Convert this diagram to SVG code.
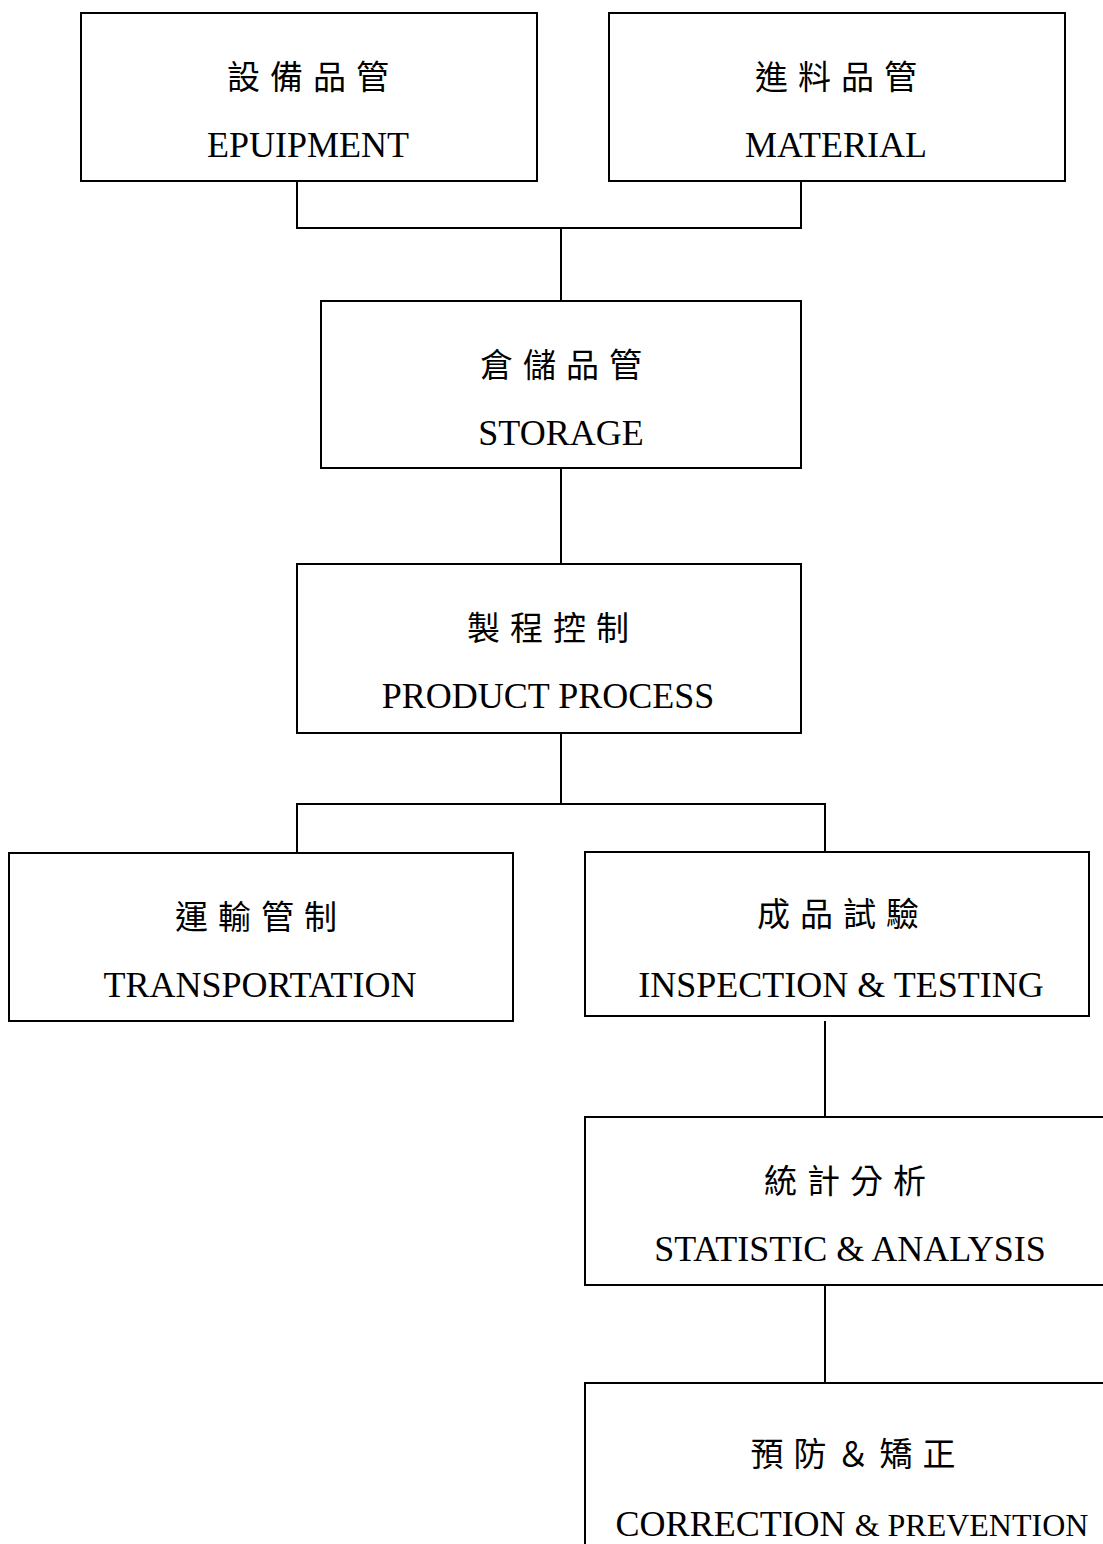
<svg xmlns="http://www.w3.org/2000/svg" width="1103" height="1544" viewBox="0 0 1103 1544">
  <style>
    .box { fill: #ffffff; stroke: #000000; stroke-width: 2; }
    .conn { fill: none; stroke: #000000; stroke-width: 2; }
    .zh { font-family: "Noto Sans CJK TC", "Noto Sans CJK SC", sans-serif; font-size: 33px; letter-spacing: 10px; text-anchor: middle; fill: #000; }
    .en { font-family: "Liberation Serif", "Times New Roman", serif; font-size: 36px; text-anchor: middle; fill: #000; }
    .sm { font-size: 32px; }
  </style>
  <rect width="1103" height="1544" fill="#ffffff"/>
  <g id="connectors">
    <path class="conn" d="M297 181 V228 H801 V181"/>
    <path class="conn" d="M561 228 V301"/>
    <path class="conn" d="M561 468 V564"/>
    <path class="conn" d="M561 733 V804"/>
    <path class="conn" d="M297 853 V804 H825 V852"/>
    <path class="conn" d="M825 1021 V1117"/>
    <path class="conn" d="M825 1285 V1383"/>
  </g>
  <g id="node-equipment">
    <rect class="box" x="81" y="13" width="456" height="168"/>
    <text class="zh" x="313" y="89">設備品管</text>
    <text class="en" x="308" y="157">EPUIPMENT</text>
  </g>
  <g id="node-material">
    <rect class="box" x="609" y="13" width="456" height="168"/>
    <text class="zh" x="841" y="89">進料品管</text>
    <text class="en" x="836" y="157">MATERIAL</text>
  </g>
  <g id="node-storage">
    <rect class="box" x="321" y="301" width="480" height="167"/>
    <text class="zh" x="566" y="377">倉儲品管</text>
    <text class="en" x="561" y="445">STORAGE</text>
  </g>
  <g id="node-process">
    <rect class="box" x="297" y="564" width="504" height="169"/>
    <text class="zh" x="553" y="640">製程控制</text>
    <text class="en" x="548" y="708">PRODUCT PROCESS</text>
  </g>
  <g id="node-transportation">
    <rect class="box" x="9" y="853" width="504" height="168"/>
    <text class="zh" x="261" y="929">運輸管制</text>
    <text class="en" x="260" y="997">TRANSPORTATION</text>
  </g>
  <g id="node-inspection">
    <rect class="box" x="585" y="852" width="504" height="164"/>
    <text class="zh" x="843" y="926">成品試驗</text>
    <text class="en" x="841" y="997">INSPECTION &amp; TESTING</text>
  </g>
  <g id="node-statistic">
    <rect class="box" x="585" y="1117" width="532" height="168"/>
    <text class="zh" x="850" y="1193">統計分析</text>
    <text class="en" x="850" y="1261">STATISTIC &amp; ANALYSIS</text>
  </g>
  <g id="node-correction">
    <rect class="box" x="585" y="1383" width="532" height="200"/>
    <text class="zh" x="858" y="1466">預防＆矯正</text>
    <text class="en" x="852" y="1536">CORRECTION <tspan class="sm">&amp; PREVENTION</tspan></text>
  </g>
</svg>
